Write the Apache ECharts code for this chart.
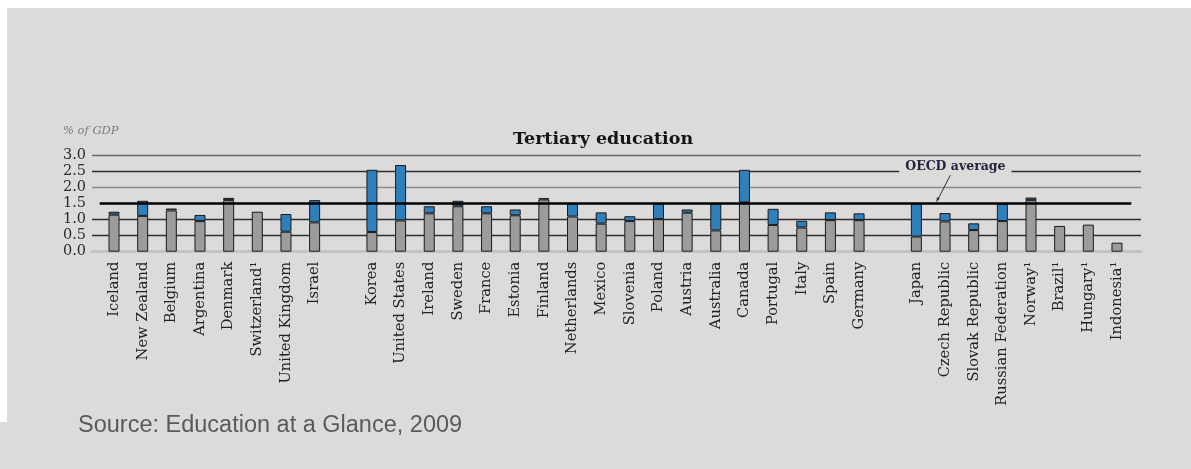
<!DOCTYPE html>
<html>
<head>
<meta charset="utf-8">
<script src="https://cdn.jsdelivr.net/npm/echarts@6/dist/echarts.min.js"></script>
<style>
  html, body { margin: 0; padding: 0; background: #ffffff; }
  #wrap { position: relative; width: 1191px; height: 469px; background: #ffffff; overflow: hidden; }
  #chart { position: absolute; left: 0; top: 0; width: 1191px; height: 469px; background: #dcdbd9; }
  #topStrip { position: absolute; left: 0; top: 0; width: 1191px; height: 8px; background: #ffffff; z-index: 5; }
  #leftStrip { position: absolute; left: 0; top: 0; width: 7px; height: 422px; background: #ffffff; z-index: 5; }
</style>
</head>
<body>
<div id="wrap">
  <div id="chart"></div>
  <div id="topStrip"></div>
  <div id="leftStrip"></div>
</div>
<script>
// ---- data ----
const countries = [
  'Iceland', 'New Zealand', 'Belgium', 'Argentina', 'Denmark', 'Switzerland\u00B9', 'United Kingdom', 'Israel',
  '',
  'Korea', 'United States', 'Ireland', 'Sweden', 'France', 'Estonia', 'Finland', 'Netherlands', 'Mexico',
  'Slovenia', 'Poland', 'Austria', 'Australia', 'Canada', 'Portugal', 'Italy', 'Spain', 'Germany',
  '',
  'Japan', 'Czech Republic', 'Slovak Republic', 'Russian Federation', 'Norway\u00B9', 'Brazil\u00B9', 'Hungary\u00B9', 'Indonesia\u00B9'
];
const publicShare = [
  1.15, 1.11, 1.28, 0.95, 1.60, 1.24, 0.62, 0.91,
  null,
  0.61, 0.97, 1.19, 1.41, 1.19, 1.13, 1.62, 1.09, 0.87,
  0.95, 1.01, 1.21, 0.66, 1.53, 0.83, 0.75, 0.98, 0.98,
  null,
  0.47, 0.94, 0.67, 0.95, 1.60, 0.80, 0.84, 0.28
];
const privateShare = [
  0.09, 0.47, 0.06, 0.19, 0.07, null, 0.55, 0.69,
  null,
  1.93, 1.72, 0.22, 0.17, 0.22, 0.18, 0.04, 0.41, 0.35,
  0.15, 0.49, 0.10, 0.84, 1.01, 0.50, 0.21, 0.24, 0.21,
  null,
  1.03, 0.26, 0.21, 0.53, 0.08, null, null, null
];
const oecdAverage = 1.5;
const yTicks = { min: 0, max: 3, interval: 0.5 };

// ---- chart ----
const serif = 'DejaVu Serif';
const chart = echarts.init(document.getElementById('chart'), null, { renderer: 'canvas' });

const gridTop = 155;
const gridHeight = 96.7;

const option = {
  animation: false,
  backgroundColor: '#dcdbd9',
  title: [
    {
      text: 'Tertiary education',
      left: 508, top: 125,
      textStyle: { fontFamily: serif, fontWeight: 'bold', fontSize: 17.5, color: '#151515' }
    },
    {
      text: '% of GDP',
      left: 58, top: 120,
      textStyle: { fontFamily: serif, fontStyle: 'italic', fontWeight: 'normal', fontSize: 11.5, color: '#7a7a7a' }
    },
    {
      text: 'Source: Education at a Glance, 2009',
      left: 73, top: 409,
      textStyle: { fontFamily: 'Liberation Sans', fontWeight: 'normal', fontSize: 23.5, color: '#5a5a5a' }
    }
  ],
  grid: [
    { left: 92, right: 50, top: gridTop, height: gridHeight },
    { left: 99.7, width: 1031.6, top: gridTop, height: gridHeight }
  ],
  xAxis: [
    {
      gridIndex: 0, type: 'value', min: 0, max: 1,
      axisLine: { show: true, onZero: true, lineStyle: { color: '#c3c3c3', width: 3 } },
      axisTick: { show: false }, axisLabel: { show: false }, splitLine: { show: false }
    },
    {
      gridIndex: 1, type: 'category', data: countries,
      axisLine: { show: false }, axisTick: { show: false },
      axisLabel: {
        interval: 0, rotate: 90, margin: 10,
        fontFamily: serif, fontSize: 14.7, color: '#222222'
      }
    }
  ],
  yAxis: [
    {
      gridIndex: 0, type: 'value', min: yTicks.min, max: yTicks.max, interval: yTicks.interval,
      axisLine: { show: false }, axisTick: { show: false },
      axisLabel: {
        margin: 6, fontFamily: serif, fontSize: 14.5, color: '#2a2a2a',
        formatter: v => v.toFixed(1)
      },
      splitLine: {
        show: true,
        lineStyle: {
          width: 1.3,
          color: ['rgba(0,0,0,0)', '#2e2e2e', '#2e2e2e', 'rgba(0,0,0,0)', '#8a8a8a', '#2e2e2e', '#6a6a6a']
        }
      }
    },
    {
      gridIndex: 1, type: 'value', min: yTicks.min, max: yTicks.max, interval: yTicks.interval,
      axisLine: { show: false }, axisTick: { show: false }, axisLabel: { show: false },
      splitLine: { show: false }
    }
  ],
  series: [
    {
      name: 'Public', type: 'bar', xAxisIndex: 1, yAxisIndex: 1, stack: 'total',
      data: publicShare, barWidth: 11,
      itemStyle: { color: '#9b9c9e', borderColor: '#1a1a1a', borderWidth: 1 },
      z: 3
    },
    {
      name: 'Private', type: 'bar', xAxisIndex: 1, yAxisIndex: 1, stack: 'total',
      data: privateShare, barWidth: 11,
      itemStyle: { color: '#2f7fbb', borderColor: '#1a1a1a', borderWidth: 1 },
      z: 3,
      markLine: {
        silent: true, symbol: 'none', label: { show: false },
        lineStyle: { color: '#000000', width: 2.6, type: 'solid' },
        data: [{ yAxis: oecdAverage }],
        z: 5
      }
    }
  ]
};
chart.setOption(option);

// annotation anchored to the OECD average line near Japan
const jp = chart.convertToPixel({ xAxisIndex: 1, yAxisIndex: 1 }, [28, oecdAverage]);
const lblY = chart.convertToPixel({ xAxisIndex: 1, yAxisIndex: 1 }, [28, 2.5])[1];
const lx = jp[0] + 39;
chart.setOption({
  graphic: [
    {
      type: 'text', z: 10,
      x: lx, y: lblY - 4,
      style: {
        text: 'OECD average', x: 0, y: 0,
        align: 'center', verticalAlign: 'middle',
        font: 'bold 12.5px "DejaVu Serif"', fill: '#23233f',
        backgroundColor: '#dcdbd9', padding: [2, 6, 2, 6]
      }
    },
    {
      type: 'line', z: 10,
      shape: { x1: jp[0] + 34, y1: lblY + 4, x2: jp[0] + 21, y2: jp[1] - 3 },
      style: { stroke: '#333333', lineWidth: 1 }
    },
    {
      type: 'polygon', z: 10,
      shape: { points: [[jp[0] + 20, jp[1] - 1], [jp[0] + 20.5, jp[1] - 6], [jp[0] + 23.5, jp[1] - 5]] },
      style: { fill: '#333333' }
    }
  ]
});
</script>
</body>
</html>
